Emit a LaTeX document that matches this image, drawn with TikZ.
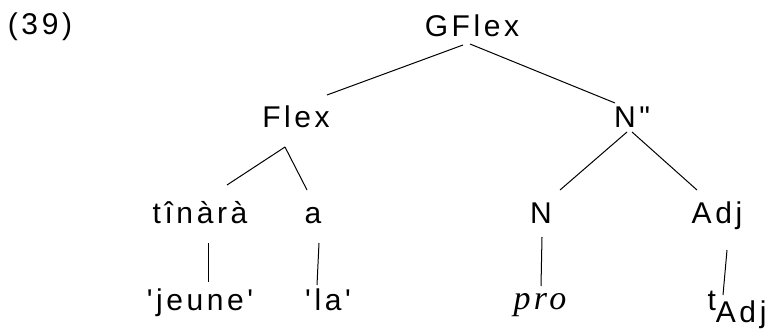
\documentclass[tikz,border=0pt]{standalone}
\usepackage{fontspec}
\setmainfont{Liberation Sans}[LetterSpace=12, Ligatures=TeXOff]
\newfontfamily\serifit{Liberation Serif}[LetterSpace=10]
\usetikzlibrary{calc}
\begin{document}
\begin{tikzpicture}[x=1pt,y=-1pt,
  lbl/.style={font=\fontsize{30}{30}\selectfont, inner sep=0pt, anchor=base},
  edge/.style={line width=1pt, black}]
\useasboundingbox (0,0) rectangle (775,334);
\node[lbl] (num) at (40,35) {(39)};
\node[lbl] (gflex) at (472,37) {GFlex};
\node[lbl] (flex) at (296,128) {Flex};
\node[lbl] (npp) at (632,128) {N"};
\node[lbl] (tinara) at (200,223) {tînàrà};
\node[lbl] (a) at (313,223) {a};
\node[lbl] (n) at (541,223) {N};
\node[lbl] (adj) at (717,223) {Adj};
\node[lbl] (jeune) at (200,310) {'jeune'};
\node[lbl] (la) at (328,310) {'la'};
\node[lbl] (pro) at (540,309) {\fontsize{34}{34}\serifit\itshape pro};
\node[lbl] (tadj) at (737,310) {t\raisebox{-12pt}{Adj}};
\draw[edge] ($(gflex.base)+(-9,8)$) -- ($(flex.base)+(31,-33)$);
\draw[edge] ($(gflex.base)+(-2,7)$) -- ($(npp.base)+(-17,-25)$);
\draw[edge] ($(flex.base)+(-11,19)$) -- ($(tinara.base)+(27,-38)$);
\draw[edge] ($(flex.base)+(-11,19)$) -- ($(a.base)+(-6,-33)$);
\draw[edge] ($(npp.base)+(-5,4)$) -- ($(n.base)+(19,-33)$);
\draw[edge] ($(npp.base)+(0,4)$) -- ($(adj.base)+(-20,-33)$);
\draw[edge] ($(tinara.base)+(8,20)$) -- ($(jeune.base)+(8,-28)$);
\draw[edge] ($(a.base)+(6,20)$) -- ($(la.base)+(-11,-25)$);
\draw[edge] ($(n.base)+(1,14)$) -- ($(pro.base)+(1,-23)$);
\draw[edge] ($(adj.base)+(10,27)$) -- ($(tadj.base)+(-14,-15)$);
\end{tikzpicture}
\end{document}
